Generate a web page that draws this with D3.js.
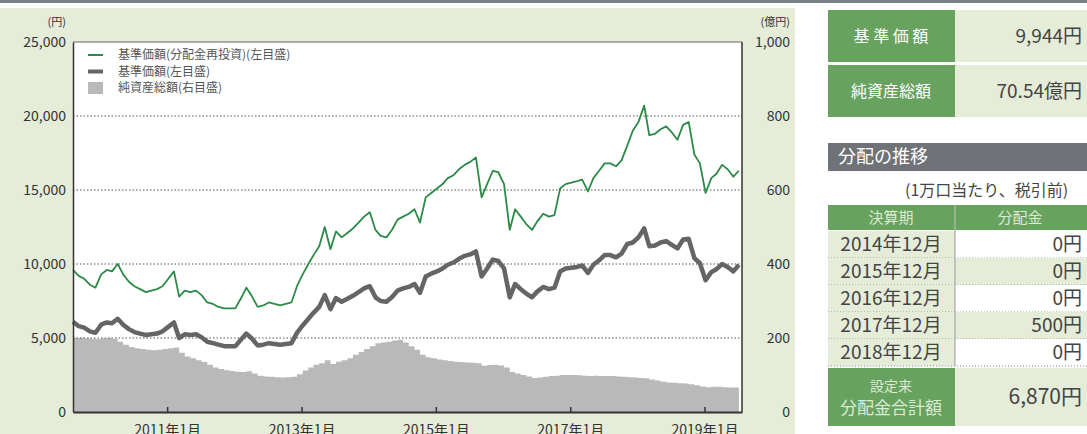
<!DOCTYPE html>
<html>
<head>
<meta charset="utf-8">
<script src="https://cdn.jsdelivr.net/npm/d3@7"></script>
<style>
  body { margin: 0; background: #fff; }
  svg text { font-family: "Noto Sans CJK JP", "Noto Sans", sans-serif; }
</style>
</head>
<body>
<svg id="chart" width="1087" height="434"></svg>
<script>
// monthly values, first month = Aug 2009
var reinvested = [
  9600, 9200, 9000, 8600, 8400, 9300, 9600, 9500, 10000, 9300,
  8800, 8500, 8300, 8100, 8200, 8300, 8500, 9000, 9500, 7800,
  8200, 8100, 8200, 7900, 7400, 7300, 7100, 7000, 7000, 7000,
  7700, 8400, 7800, 7100, 7200, 7400, 7300, 7200, 7300, 7400,
  8500, 9300, 10000, 10600, 11200, 12500, 11000, 12200, 11800, 12100,
  12400, 12800, 13200, 13500, 12300, 11900, 11800, 12300, 13000, 13200,
  13400, 13700, 12800, 14500, 14800, 15100, 15400, 15800, 16000, 16400,
  16700, 16900, 17200, 14500, 15400, 16300, 16200, 15400, 12300, 13700,
  13200, 12700, 12300, 12900, 13400, 13200, 13300, 15100, 15400, 15500,
  15600, 15700, 14900, 15800, 16300, 16800, 16800, 16600, 17000, 18000,
  19000, 19600, 20700, 18700, 18800, 19100, 19300, 18900, 18400, 19400,
  19600, 17400, 16800, 14800, 15800, 16100, 16700, 16400, 15900, 16300
];
var nav = [
  6100, 5800, 5700, 5450, 5350, 5900, 6050, 6000, 6300, 5900,
  5600, 5400, 5300, 5200, 5250, 5300, 5450, 5750, 6050, 5000,
  5250, 5200, 5250, 5050, 4750, 4650, 4550, 4450, 4450, 4450,
  4900, 5300, 4950, 4500, 4550, 4650, 4600, 4550, 4600, 4650,
  5350, 5850, 6300, 6700, 7100, 7900, 6950, 7700, 7450, 7650,
  7850, 8100, 8350, 8500, 7750, 7500, 7450, 7750, 8200, 8350,
  8450, 8650, 8050, 9150, 9350, 9500, 9700, 9950, 10100, 10350,
  10550, 10650, 10850, 9150, 9700, 10300, 10200, 9700, 7750, 8650,
  8300, 8000, 7750, 8150, 8450, 8300, 8400, 9500, 9700, 9750,
  9800, 9900, 9400, 9950, 10250, 10600, 10600, 10450, 10700, 11350,
  11450, 11800, 12400, 11200, 11250, 11450, 11550, 11300, 11050, 11650,
  11700, 10400, 10050, 8900, 9450, 9650, 10000, 9800, 9500, 9940
];
var netAssets = [
  200, 201, 199, 198, 197, 199, 200, 198, 190, 182,
  176, 172, 170, 168, 167, 168, 170, 172, 174, 160,
  150, 145, 140, 135, 128, 120, 116, 113, 111, 109,
  108, 110, 104, 98, 96, 95, 94, 93, 94, 95,
  102, 112, 120, 128, 132, 140, 130, 136, 140, 145,
  155, 162, 170, 178, 186, 188, 190, 193, 195, 188,
  178, 168, 155, 148, 145, 142, 140, 138, 136, 135,
  134, 133, 132, 125, 127, 128, 126, 120, 108, 104,
  100, 96, 92, 93, 95, 97, 98, 100, 100, 100,
  99, 98, 97, 98, 97, 97, 97, 96, 95, 94,
  93, 92, 91, 88, 85, 82, 80, 79, 78, 77,
  75, 72, 69, 67, 68, 68, 67, 66, 66, 70
];
var startDate = new Date(2009, 7, 7);
var endDate = new Date(2019, 6, 24);
var xTickYears = [2011, 2013, 2015, 2017, 2019];
var xTickLabels = ["2011年1月", "2013年1月", "2015年1月", "2017年1月", "2019年1月"];
var leftTicks = [0, 5000, 10000, 15000, 20000, 25000];
var rightTicks = [0, 200, 400, 600, 800, 1000];
var legendLabels = ["基準価額(分配金再投資)(左目盛)", "基準価額(左目盛)", "純資産総額(右目盛)"];

var summaryLabels = ["基 準 価 額", "純資産総額"];
var summaryValues = ["9,944円", "70.54億円"];
var distPeriods = ["2014年12月", "2015年12月", "2016年12月", "2017年12月", "2018年12月"];
var distValues = ["0円", "0円", "0円", "500円", "0円"];
var totalLabel = ["設定来", "分配金合計額"];
var totalValue = "6,870円";

var green = "#2c8a48", darkGreen = "#68a25f", paleGreen = "#e5ecd8", ink = "#444";

var svg = d3.select("#chart");

// background
svg.append("rect").attr("x", 0).attr("y", 0).attr("width", 1087).attr("height", 3).attr("fill", "#7b8085");
svg.append("rect").attr("x", 0).attr("y", 8).attr("width", 795).attr("height", 426).attr("fill", paleGreen);

var margin = { top: 42, left: 73, right: 742, bottom: 412 };
svg.append("rect")
  .attr("x", margin.left).attr("y", margin.top)
  .attr("width", margin.right - margin.left).attr("height", margin.bottom - margin.top)
  .attr("fill", "#fff");

var x = d3.scaleTime().domain([startDate, endDate]).range([margin.left, margin.right]);
var yLeft = d3.scaleLinear().domain([0, 25000]).range([margin.bottom, margin.top]);
var yRight = d3.scaleLinear().domain([0, 1000]).range([margin.bottom, margin.top]);

var dates = reinvested.map((d, i) => d3.timeMonth.offset(startDate, i));

// net assets area
var area = d3.area()
  .x((d, i) => x(dates[i]))
  .y0(yRight(0))
  .y1(d => yRight(d))
  .curve(d3.curveStepAfter);

svg.append("path")
  .datum(netAssets)
  .attr("d", area)
  .attr("fill", "#b9b9b9");

// grid
svg.append("g")
  .selectAll("line")
  .data(leftTicks.filter(d => d > 0 && d < 25000))
  .enter()
  .append("line")
  .attr("x1", margin.left).attr("x2", margin.right)
  .attr("y1", d => yLeft(d)).attr("y2", d => yLeft(d))
  .attr("stroke", "#555")
  .attr("stroke-width", 1)
  .attr("stroke-dasharray", "1.5,2");

var line = d3.line()
  .x((d, i) => x(dates[i]))
  .y(d => yLeft(d));

svg.append("path")
  .datum(nav)
  .attr("d", line)
  .attr("fill", "none")
  .attr("stroke", "#656565")
  .attr("stroke-width", 4.5)
  .attr("stroke-linejoin", "round");

svg.append("path")
  .datum(reinvested)
  .attr("d", line)
  .attr("fill", "none")
  .attr("stroke", green)
  .attr("stroke-width", 1.8)
  .attr("stroke-linejoin", "round");

// frame
svg.append("line").attr("x1", margin.left).attr("x2", margin.right).attr("y1", margin.top).attr("y2", margin.top)
  .attr("stroke", "#666").attr("stroke-width", 1);
svg.append("line").attr("x1", margin.right).attr("x2", margin.right).attr("y1", margin.top).attr("y2", margin.bottom)
  .attr("stroke", "#333").attr("stroke-width", 1.5);

// axes
var leftAxis = svg.append("g")
  .attr("transform", `translate(${margin.left},0)`)
  .call(d3.axisLeft(yLeft).tickValues(leftTicks).tickFormat(d3.format(",")).tickSize(0).tickPadding(7));
leftAxis.select(".domain").attr("stroke", "#333").attr("stroke-width", 1.5);

var rightAxis = svg.append("g")
  .attr("transform", `translate(${margin.right},0)`)
  .call(d3.axisRight(yRight).tickValues(rightTicks).tickFormat(d3.format(",")).tickSize(0).tickPadding(48));
rightAxis.select(".domain").remove();
rightAxis.selectAll("text").attr("text-anchor", "end");

var tickDates = xTickYears.map(yr => new Date(yr, 0, 1));
var bottomAxis = svg.append("g")
  .attr("transform", `translate(0,${margin.bottom})`)
  .call(d3.axisBottom(x).tickValues(tickDates).tickFormat((d, i) => xTickLabels[i])
    .tickSizeInner(-5).tickSizeOuter(0).tickPadding(13));
bottomAxis.select(".domain").attr("stroke", "#333").attr("stroke-width", 2);
bottomAxis.selectAll(".tick line").attr("stroke", "#333").attr("stroke-width", 1.5);

svg.selectAll(".tick text").attr("font-size", 14).attr("fill", "#333");

svg.append("text").attr("x", 66).attr("y", 26).attr("text-anchor", "end")
  .attr("font-size", 11).attr("fill", "#333").text("(円)");
svg.append("text").attr("x", 790).attr("y", 26).attr("text-anchor", "end")
  .attr("font-size", 11).attr("fill", "#333").text("(億円)");

// legend
var legend = svg.append("g").attr("transform", "translate(88,55)");
legend.selectAll(".legend-item")
  .data(legendLabels)
  .enter()
  .append("g")
  .attr("class", "legend-item")
  .attr("transform", (d, i) => `translate(0,${i * 16.5})`)
  .each(function(d, i) {
    var g = d3.select(this);
    if (i === 2) {
      g.append("rect").attr("x", 0).attr("y", -6).attr("width", 15).attr("height", 12).attr("fill", "#b9b9b9");
    } else {
      g.append("line").attr("x1", 0).attr("x2", 15).attr("y1", 0).attr("y2", 0)
        .attr("stroke", i === 0 ? green : "#656565").attr("stroke-width", i === 0 ? 2 : 4);
    }
    g.append("text").attr("x", 30).attr("y", 0).attr("dy", "0.35em")
      .attr("font-size", 12).attr("fill", "#555").text(d);
  });

// right panel: summary boxes
var panel = svg.append("g");
summaryLabels.forEach(function(lab, i) {
  var top = 10 + i * 55;
  panel.append("rect").attr("x", 828).attr("y", top).attr("width", 127).attr("height", 52).attr("fill", darkGreen);
  panel.append("rect").attr("x", 955).attr("y", top).attr("width", 132).attr("height", 52).attr("fill", paleGreen);
  panel.append("text").attr("x", 891).attr("y", top + 26).attr("dy", "0.35em").attr("text-anchor", "middle")
    .attr("font-size", 16).attr("fill", "#fff").text(lab);
  panel.append("text").attr("x", 1082).attr("y", top + 26).attr("dy", "0.35em").attr("text-anchor", "end")
    .attr("font-size", 19).attr("fill", ink).text(summaryValues[i]);
});

// distribution table
panel.append("rect").attr("x", 828).attr("y", 143).attr("width", 259).attr("height", 28).attr("fill", "#6f7377");
panel.append("text").attr("x", 838).attr("y", 157).attr("dy", "0.35em")
  .attr("font-size", 18).attr("fill", "#fff").text("分配の推移");
panel.append("text").attr("x", 905).attr("y", 190).attr("dy", "0.35em")
  .attr("font-size", 16).attr("fill", ink).text("(1万口当たり、税引前)");

panel.append("rect").attr("x", 828).attr("y", 205).attr("width", 259).attr("height", 25).attr("fill", darkGreen);
panel.append("text").attr("x", 891).attr("y", 217.5).attr("dy", "0.35em").attr("text-anchor", "middle")
  .attr("font-size", 15).attr("fill", "#dcebd5").text("決算期");
panel.append("text").attr("x", 1020).attr("y", 217.5).attr("dy", "0.35em").attr("text-anchor", "middle")
  .attr("font-size", 15).attr("fill", "#dcebd5").text("分配金");

var rowH = 27, rowTop = 231;
distPeriods.forEach(function(p, i) {
  var top = rowTop + i * rowH;
  panel.append("rect").attr("x", 828).attr("y", top).attr("width", 127).attr("height", rowH).attr("fill", paleGreen);
  panel.append("rect").attr("x", 955).attr("y", top).attr("width", 132).attr("height", rowH)
    .attr("fill", i % 2 === 1 ? paleGreen : "#fff");
  panel.append("text").attr("x", 891).attr("y", top + rowH / 2).attr("dy", "0.35em").attr("text-anchor", "middle")
    .attr("font-size", 19).attr("fill", ink).text(p);
  panel.append("text").attr("x", 1082).attr("y", top + rowH / 2).attr("dy", "0.35em").attr("text-anchor", "end")
    .attr("font-size", 19).attr("fill", ink).text(distValues[i]);
  panel.append("line").attr("x1", 828).attr("x2", 1087).attr("y1", top + rowH).attr("y2", top + rowH)
    .attr("stroke", "#888").attr("stroke-dasharray", "1,2");
});
panel.append("line").attr("x1", 955).attr("x2", 955).attr("y1", 205).attr("y2", rowTop + rowH * distPeriods.length)
  .attr("stroke", "#999");
panel.append("line").attr("x1", 955).attr("x2", 955).attr("y1", 205).attr("y2", 230)
  .attr("stroke", "#a9cc9f");

var totTop = rowTop + rowH * distPeriods.length + 2;
panel.append("rect").attr("x", 828).attr("y", totTop).attr("width", 127).attr("height", 58).attr("fill", darkGreen);
panel.append("rect").attr("x", 955).attr("y", totTop).attr("width", 132).attr("height", 58).attr("fill", paleGreen);
totalLabel.forEach(function(t, i) {
  panel.append("text").attr("x", 891).attr("y", totTop + 18 + i * 22).attr("dy", "0.35em").attr("text-anchor", "middle")
    .attr("font-size", i === 0 ? 14 : 17).attr("fill", "#dcebd5").text(t);
});
panel.append("text").attr("x", 1082).attr("y", totTop + 29).attr("dy", "0.35em").attr("text-anchor", "end")
  .attr("font-size", 21).attr("fill", ink).text(totalValue);
</script>
</body>
</html>
